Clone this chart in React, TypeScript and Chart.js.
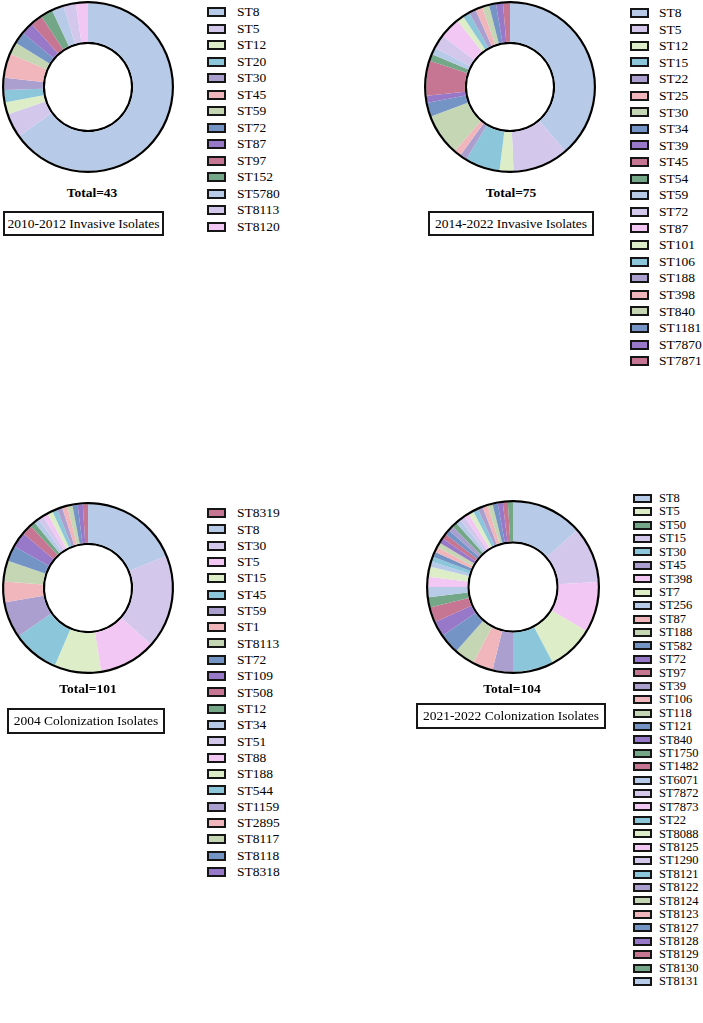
import { useEffect, useRef, useState } from "react";
import { Chart, registerables } from "chart.js";
Chart.register(...registerables);

// palette
const LB = "#b7cbe9";
const LAV = "#d3c7ec";
const MAG = "#f3c7f3";
const LG = "#ddedc7";
const TEAL = "#8bc6da";
const PG = "#ab9fcf";
const PINK = "#f1b6bb";
const SAGE = "#c4d6b4";
const STEEL = "#7594c6";
const PURP = "#9778c9";
const ROSE = "#c67692";
const GRN = "#74a688";

// 2010-2012 invasive
const tlLabels = ["ST8", "ST5", "ST12", "ST20", "ST30", "ST45", "ST59", "ST72", "ST87", "ST97", "ST152", "ST5780", "ST8113", "ST8120"];
const tlCounts = [28, 2, 1, 1, 1, 2, 1, 1, 1, 1, 1, 1, 1, 1];
const tlColors = [LB, LAV, LG, TEAL, PG, PINK, SAGE, STEEL, PURP, ROSE, GRN, LB, LAV, MAG];

// 2014-2022 invasive
const trLabels = ["ST8", "ST5", "ST12", "ST15", "ST22", "ST25", "ST30", "ST34", "ST39", "ST45", "ST54", "ST59", "ST72", "ST87", "ST101", "ST106", "ST188", "ST398", "ST840", "ST1181", "ST7870", "ST7871"];
const trCounts = [29, 8, 2, 5, 1, 1, 6, 2, 1, 5, 1, 1, 2, 3, 1, 1, 1, 1, 1, 1, 1, 1];
const trColors = [LB, LAV, LG, TEAL, PG, PINK, SAGE, STEEL, PURP, ROSE, GRN, LB, LAV, MAG, LG, TEAL, PG, PINK, SAGE, STEEL, PURP, ROSE];

// 2004 colonization
const blLabels = ["ST8319", "ST8", "ST30", "ST5", "ST15", "ST45", "ST59", "ST1", "ST8113", "ST72", "ST109", "ST508", "ST12", "ST34", "ST51", "ST88", "ST188", "ST544", "ST1159", "ST2895", "ST8117", "ST8118", "ST8318"];
const blCounts = [1, 19, 18, 11, 9, 9, 7, 4, 4, 3, 3, 2, 1, 1, 1, 1, 1, 1, 1, 1, 1, 1, 1];
const blColors = [ROSE, LB, LAV, MAG, LG, TEAL, PG, PINK, SAGE, STEEL, PURP, ROSE, GRN, LB, LAV, MAG, LG, TEAL, PG, PINK, SAGE, STEEL, PURP];

// 2021-2022 colonization
const brLabels = ["ST8", "ST5", "ST50", "ST15", "ST30", "ST45", "ST398", "ST7", "ST256", "ST87", "ST188", "ST582", "ST72", "ST97", "ST39", "ST106", "ST118", "ST121", "ST840", "ST1750", "ST1482", "ST6071", "ST7872", "ST7873", "ST22", "ST8088", "ST8125", "ST1290", "ST8121", "ST8122", "ST8124", "ST8123", "ST8127", "ST8128", "ST8129", "ST8130", "ST8131"];
const brCounts = [14, 11, 10, 9, 8, 4, 4, 4, 4, 3, 3, 2, 2, 2, 2, 1, 1, 1, 1, 1, 1, 1, 1, 1, 1, 1, 1, 1, 1, 1, 1, 1, 1, 1, 1, 1, 1];
const brSliceColors = [LB, LAV, MAG, LG, TEAL, PG, PINK, SAGE, STEEL, PURP, ROSE, GRN, LB, MAG, LG, LB, TEAL, STEEL, PINK, SAGE, PURP, ROSE, STEEL, PG, GRN, LB, LAV, MAG, LG, TEAL, PG, PINK, SAGE, STEEL, PURP, ROSE, GRN];
const brLegendColors = [LB, LG, GRN, LAV, TEAL, PG, MAG, LG, LB, PINK, SAGE, STEEL, PURP, ROSE, PG, PINK, SAGE, STEEL, PURP, GRN, ROSE, LB, LAV, MAG, TEAL, LG, MAG, LAV, TEAL, PG, SAGE, PINK, STEEL, PURP, ROSE, GRN, LB];

const SERIF = "'Liberation Serif', 'Times New Roman', serif";
const RIM = "#000000";

interface PanelProps {
  labels: string[];
  counts: number[];
  sliceColors: string[];
  legendColors: string[];
  rotation?: number;
  cx: number;
  cy: number;
  radius: number;
  legend: { sqLeft: number; textLeft: number; firstY: number; pitch: number; sqW: number; sqH: number; font: number };
  total: { cx: number; cy: number };
  box: { left: number; top: number; width: number; height: number; text: string };
}

function Panel(p: PanelProps) {
  const ref = useRef<HTMLCanvasElement>(null);
  const [items, setItems] = useState<{ text: string; fill: string }[]>([]);

  useEffect(() => {
    if (!ref.current) return;
    // ring is radius/2 thick; a thin black ring dataset sits on each edge of it
    const ringPx = p.radius / 2;
    const rimW = 2.2;
    const chart = new Chart(ref.current, {
      type: "doughnut",
      data: {
        labels: p.labels,
        datasets: [
          { data: [1], backgroundColor: [RIM], borderWidth: 0, weight: rimW },
          { data: p.counts, backgroundColor: p.sliceColors, borderWidth: 0, weight: ringPx - 2 * rimW },
          { data: [1], backgroundColor: [RIM], borderWidth: 0, weight: rimW },
        ],
      },
      options: {
        responsive: true,
        maintainAspectRatio: false,
        animation: false,
        rotation: p.rotation ?? 0,
        radius: p.radius,
        cutout: "50%",
        plugins: { legend: { display: false }, tooltip: { enabled: false } },
      },
    });
    setItems((chart.data.labels as string[]).map((text, i) => ({ text, fill: p.legendColors[i] })));
    return () => chart.destroy();
  }, []);

  const total = p.counts.reduce((a, b) => a + b, 0);
  const L = p.legend;

  return (
    <>
      <div style={{ position: "absolute", left: p.cx - 95, top: p.cy - 95, width: 190, height: 190 }}>
        <canvas ref={ref} />
      </div>
      <div style={{ position: "absolute", left: L.sqLeft, top: L.firstY - L.pitch / 2, fontFamily: SERIF, fontSize: L.font }}>
        {items.map((it) => (
          <div key={it.text} style={{ height: L.pitch, display: "flex", alignItems: "center" }}>
            <span style={{
              display: "inline-block", width: L.sqW, height: L.sqH, background: it.fill,
              border: "2px solid #161616", boxSizing: "border-box",
            }} />
            <span style={{ marginLeft: L.textLeft - L.sqLeft - L.sqW, lineHeight: 1, whiteSpace: "nowrap" }}>{it.text}</span>
          </div>
        ))}
      </div>
      <div style={{
        position: "absolute", left: p.total.cx - 60, width: 120, top: p.total.cy - 7, lineHeight: "14px",
        textAlign: "center", fontFamily: SERIF, fontWeight: "bold", fontSize: 13.5,
      }}>
        Total={total}
      </div>
      <div style={{
        position: "absolute", left: p.box.left, top: p.box.top, width: p.box.width, height: p.box.height,
        border: "2px solid #161616", boxSizing: "border-box", display: "flex", alignItems: "center",
        justifyContent: "center", fontFamily: SERIF, fontSize: 13.5, whiteSpace: "nowrap",
      }}>
        {p.box.text}
      </div>
    </>
  );
}

export default function App() {
  const blTotal = blCounts.reduce((a, b) => a + b, 0);
  return (
    <div style={{ position: "absolute", left: 0, top: 0, width: 703, height: 1023, background: "#fff" }}>
      <Panel
        labels={tlLabels} counts={tlCounts} sliceColors={tlColors} legendColors={tlColors}
        cx={87.5} cy={87} radius={86}
        legend={{ sqLeft: 207, textLeft: 237, firstY: 12, pitch: 16.5, sqW: 19, sqH: 10, font: 13.5 }}
        total={{ cx: 92, cy: 193 }}
        box={{ left: 3, top: 211, width: 161, height: 25, text: "2010-2012 Invasive Isolates" }}
      />
      <Panel
        labels={trLabels} counts={trCounts} sliceColors={trColors} legendColors={trColors}
        cx={510} cy={87} radius={86}
        legend={{ sqLeft: 630, textLeft: 659, firstY: 12.7, pitch: 16.6, sqW: 19, sqH: 10, font: 13.5 }}
        total={{ cx: 511, cy: 193 }}
        box={{ left: 428, top: 211, width: 166, height: 25, text: "2014-2022 Invasive Isolates" }}
      />
      <Panel
        labels={blLabels} counts={blCounts} sliceColors={blColors} legendColors={blColors}
        rotation={-360 * blCounts[0] / blTotal}
        cx={87.5} cy={588} radius={86}
        legend={{ sqLeft: 207, textLeft: 237, firstY: 513, pitch: 16.32, sqW: 19, sqH: 10, font: 13.5 }}
        total={{ cx: 88, cy: 689 }}
        box={{ left: 7, top: 708, width: 158, height: 26, text: "2004 Colonization Isolates" }}
      />
      <Panel
        labels={brLabels} counts={brCounts} sliceColors={brSliceColors} legendColors={brLegendColors}
        cx={513} cy={587} radius={87}
        legend={{ sqLeft: 633, textLeft: 659, firstY: 498.3, pitch: 13.43, sqW: 19, sqH: 9, font: 12.5 }}
        total={{ cx: 512, cy: 689 }}
        box={{ left: 416, top: 703, width: 190, height: 26, text: "2021-2022 Colonization Isolates" }}
      />
    </div>
  );
}
